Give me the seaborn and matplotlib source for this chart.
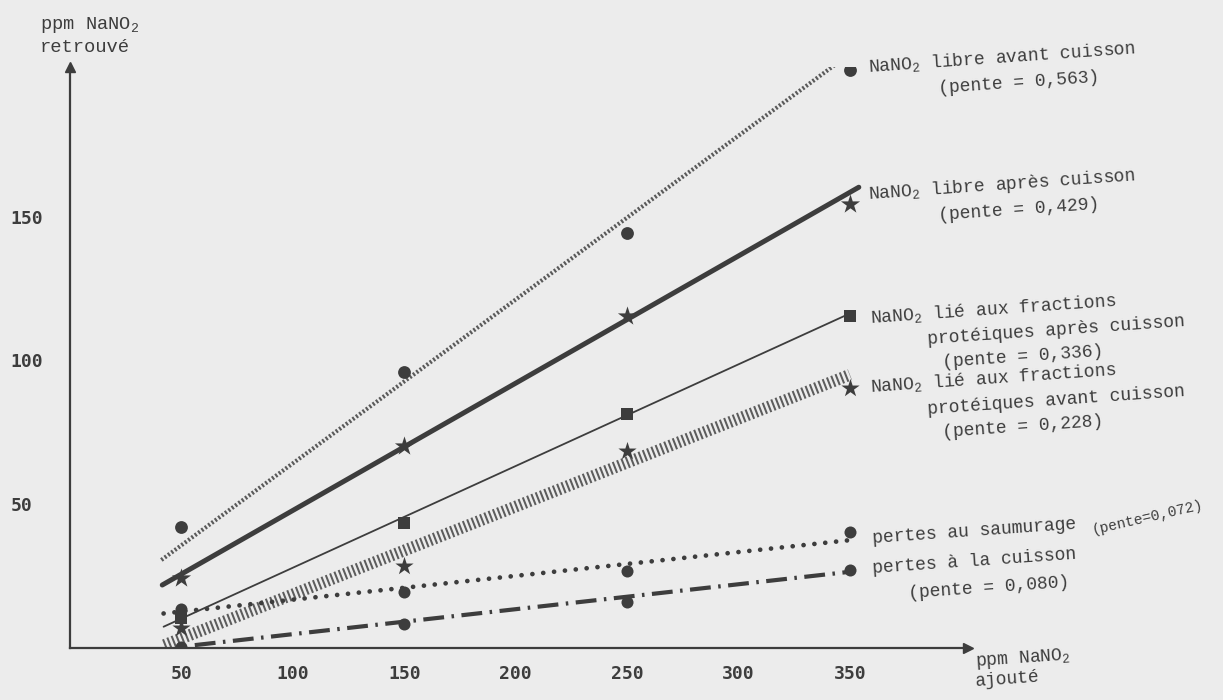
import matplotlib
matplotlib.use("Agg")
import matplotlib.pyplot as plt
import seaborn as sns

# points mesurés (ppm NaNO2 ajouté -> retrouvé)
x_pts = [50, 150, 250, 350]
libre_avant = [42.1, 95.9, 144.2, 200.9]
libre_apres = [24.3, 70.3, 115.6, 154.4]
lie_apres = [10.5, 43.3, 81.3, 115.6]
lie_avant = [7.0, 28.6, 68.5, 90.3]
saumurage = [13.5, 19.3, 26.9, 40.4]
cuisson = [0.3, 8.3, 16.1, 27.1]

# droites de régression (extrémités)
droite_x0 = [41, 41.4, 42, 42.3, 42, 56]
droite_x1 = [349, 354, 348, 350, 350, 350]
droite_y0 = [30.6, 21.9, 7.4, 1.0, 12.0, 1.0]
droite_y1 = [206, 160.2, 115.6, 95.0, 37.5, 26.5]

x_ticks = [50, 100, 150, 200, 250, 300, 350]
y_ticks = [50, 100, 150]

sns.set_theme(style="white")
plt.rcParams["font.family"] = ["Liberation Mono", "DejaVu Sans Mono"]
plt.rcParams["mathtext.fontset"] = "custom"
plt.rcParams["mathtext.rm"] = "Liberation Mono"

encre = "#3d3d3d"
fond = "#ececec"

fig = plt.figure(figsize=(12.23, 7), dpi=100, facecolor=fond)
ax = fig.add_axes([70 / 1223, 52 / 700, 898 / 1223, 581 / 700])
ax.set_facecolor(fond)

# styles des droites
styles = [
    dict(color="#5a5a5a", linewidth=3.0, linestyle=(0, (0.5, 0.5))),
    dict(color=encre, linewidth=3.6, linestyle="-"),
    dict(color=encre, linewidth=1.3, linestyle="-"),
    dict(color="#5c5c5c", linewidth=8.5, linestyle=(0, (0.17, 0.22))),
    dict(color=encre, linewidth=3.4, linestyle=(0, (0.01, 2.3)), dash_capstyle="round"),
    dict(color=encre, linewidth=3.0, linestyle=(0, (5, 1.8, 0.6, 1.8))),
]
for i, st in enumerate(styles):
    sns.lineplot(x=[droite_x0[i], droite_x1[i]], y=[droite_y0[i], droite_y1[i]],
                 ax=ax, legend=False, **st)

# points
series = [
    (libre_avant, "o", 85),
    (libre_apres, "*", 210),
    (lie_apres, "s", 80),
    (lie_avant, "*", 190),
    (saumurage, "o", 75),
    (cuisson, "o", 75),
]
for vals, mk, s in series:
    sns.scatterplot(x=x_pts, y=vals, ax=ax, marker=mk, s=s, color=encre,
                    linewidth=0, legend=False, zorder=5)

ax.set_xlim(0, 403)
ax.set_ylim(0, 202)
for side in ["top", "right"]:
    ax.spines[side].set_visible(False)
for side in ["left", "bottom"]:
    ax.spines[side].set_color(encre)
    ax.spines[side].set_linewidth(1.6)

ax.plot(1, 0, ">", color=encre, ms=7, transform=ax.get_yaxis_transform(), clip_on=False)
ax.plot(0, 1, "^", color=encre, ms=7, transform=ax.get_xaxis_transform(), clip_on=False)

ax.set_xticks(x_ticks)
ax.set_yticks(y_ticks)
ax.tick_params(axis="both", direction="in", length=7, width=1.4, color=encre,
               labelcolor=encre, labelsize=13)
ax.tick_params(axis="x", pad=12)
ax.tick_params(axis="y", pad=43)
for lab in ax.get_xticklabels() + ax.get_yticklabels():
    lab.set_family("DejaVu Sans Mono")
    lab.set_fontweight("bold")
for lab in ax.get_yticklabels():
    lab.set_horizontalalignment("left")

# titres des axes
fig.text(40 / 1223, 1 - 25 / 700, r"ppm NaNO$_{\mathrm{2}}$", fontsize=13.5, color=encre,
         ha="left", va="center")
fig.text(40 / 1223, 1 - 48 / 700, "retrouvé", fontsize=13.5, color=encre,
         ha="left", va="center")
fig.text(975 / 1223, 1 - 662 / 700, r"ppm NaNO$_{\mathrm{2}}$", fontsize=13, color=encre,
         ha="left", va="center", rotation=4, rotation_mode="anchor")
fig.text(975 / 1223, 1 - 682 / 700, "ajouté", fontsize=13, color=encre,
         ha="left", va="center", rotation=4, rotation_mode="anchor")

# étiquettes des droites
etiquettes = [
    (868, 67, r"NaNO$_{\mathrm{2}}$ libre avant cuisson"),
    (938, 89, "(pente = 0,563)"),
    (868, 195, r"NaNO$_{\mathrm{2}}$ libre après cuisson"),
    (938, 216, "(pente = 0,429)"),
    (870, 318, r"NaNO$_{\mathrm{2}}$ lié aux fractions"),
    (927, 340, "protéiques après cuisson"),
    (942, 363, "(pente = 0,336)"),
    (870, 387, r"NaNO$_{\mathrm{2}}$ lié aux fractions"),
    (927, 410, "protéiques avant cuisson"),
    (942, 433, "(pente = 0,228)"),
    (872, 539, "pertes au saumurage"),
    (872, 569, "pertes à la cuisson"),
    (908, 594, "(pente = 0,080)"),
]
for px, py, txt in etiquettes:
    fig.text(px / 1223, 1 - py / 700, txt, fontsize=13, color=encre,
             ha="left", va="center", rotation=4, rotation_mode="anchor")
fig.text(1092 / 1223, 1 - 530 / 700, "(pente=0,072)", fontsize=10.5, color=encre,
         ha="left", va="center", rotation=13, rotation_mode="anchor")

fig.savefig("out.png", dpi=100, facecolor=fond)
